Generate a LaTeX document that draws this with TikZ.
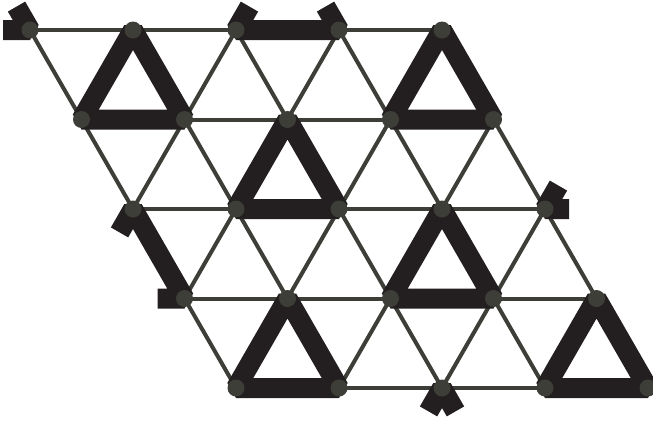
\documentclass[tikz,border=0pt]{standalone}
\usetikzlibrary{calc}
\definecolor{latc}{HTML}{3C3E37}
\definecolor{thk}{HTML}{231F20}
\tikzset{
  latline/.style={draw=latc,line width=4pt},
  bond/.style={draw=thk,line width=20pt,line join=bevel,line cap=butt},
  site/.style={fill=latc}
}
\begin{document}
\begin{tikzpicture}[x=1pt,y=-1pt]
\useasboundingbox (0,0) rectangle (653,426);
% lattice sites
\foreach \i in {0,...,4}{
  \foreach \j in {0,...,4}{
    \coordinate (p\i\j) at ({30+103*\i+51.5*\j},{30+89.5*\j});
  }
}
% sites outside the frame (for boundary stubs)
\foreach \n/\i/\j in {a/3/-1, b/0/-1, c/-1/0, d/-1/3, e/5/1, f/5/2, g/1/5, h/2/5}{
  \coordinate (q\n) at ({30+103*\i+51.5*\j},{30+89.5*\j});
}
% thin lattice
\foreach \j in {0,...,4}{ \draw[latline] (p0\j) -- (p4\j); }
\foreach \i in {0,...,4}{ \draw[latline] (p\i0) -- (p\i4); }
\foreach \s/\t in {10/01, 20/02, 30/03, 40/04, 41/14, 42/24, 43/34}{
  \draw[latline] (p\s) -- (p\t);
}
% full trimer triangles
\foreach \a/\b/\c in {10/01/11, 40/31/41, 21/12/22, 32/23/33, 13/04/14, 43/34/44}{
  \draw[bond] (p\a) -- (p\b) -- (p\c) -- cycle;
}
% boundary pieces
\coordinate (s1) at ($(p20)!27pt!(qa)$);
\coordinate (s2) at ($(p30)!27pt!(qa)$);
\draw[bond] (s1) -- (p20) -- (p30) -- (s2);
\coordinate (s3) at ($(p00)!27pt!(qb)$);
\coordinate (s4) at ($(p00)!27pt!(qc)$);
\draw[bond] (s3) -- (p00) -- (s4);
\coordinate (s5) at ($(p02)!27pt!(qd)$);
\coordinate (s6) at ($(p03)!27pt!(qd)$);
\draw[bond] (s5) -- (p02) -- (p03) -- (s6);
\coordinate (s7) at ($(p42)!27pt!(qe)$);
\coordinate (s8) at ($(p42)!24pt!(qf)$);
\draw[bond] (s7) -- (p42) -- (s8);
\coordinate (s9) at ($(p24)!27pt!(qg)$);
\coordinate (s10) at ($(p24)!27pt!(qh)$);
\draw[bond] (s9) -- (p24) -- (s10);
% sites
\foreach \i in {0,...,4}{
  \foreach \j in {0,...,4}{
    \fill[site] (p\i\j) circle (8.5pt);
  }
}
\end{tikzpicture}
\end{document}
